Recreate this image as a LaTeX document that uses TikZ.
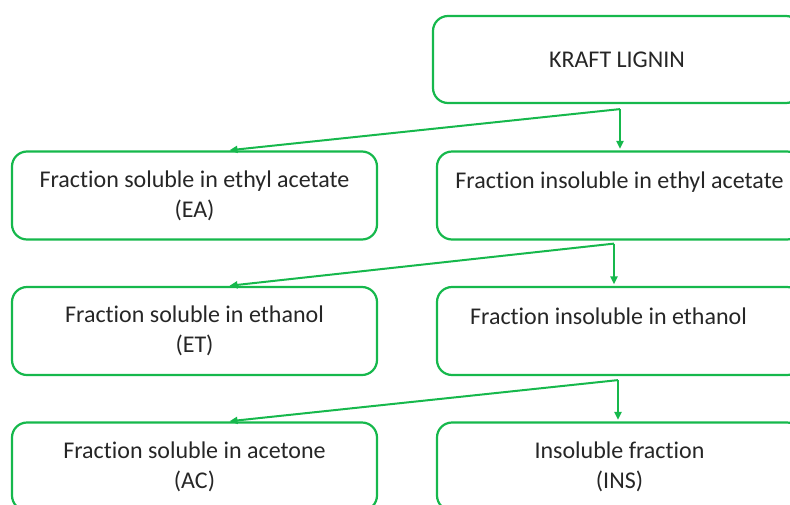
\documentclass[tikz,border=0pt]{standalone}
\usepackage{fontspec}
\setmainfont{Carlito}[RawFeature={-liga;-clig;-calt;-dlig}]
\usetikzlibrary{arrows.meta}

\definecolor{flowgreen}{RGB}{22,184,76}

\begin{document}
\begin{tikzpicture}[x=1pt, y=-1pt,
        box/.style={draw=flowgreen, line width=2.2pt, rounded corners=15pt,
            minimum width=365pt, minimum height=88pt, align=center,
            text=black!85, font=\fontsize{24}{30}\selectfont},
        flow/.style={draw=flowgreen, line width=2pt,
            -{Triangle[length=8pt, width=7pt]}, shorten >=1.5pt}]
        \useasboundingbox (0,0) rectangle (790,504);
        \clip (0,0) rectangle (790,504);

        % Starting material
        \node[box, minimum width=368pt, minimum height=87pt] (kl) at (617,59.5) {KRAFT LIGNIN};

        % Ethyl acetate step
        \node[box] (ea) at (194.5,195.5) {Fraction soluble in ethyl acetate\\(EA)};
        \node[box] (eai) at (619.5,195.5) {Fraction insoluble in ethyl acetate\\\mbox{}};

        % Ethanol step
        \node[box] (et) at (194.5,331) {Fraction soluble in ethanol\\(ET)};
        \node[box] (eti) at (619.5,331) {Fraction insoluble in ethanol\hspace*{22pt}\\\mbox{}};

        % Acetone step
        \node[box] (ac) at (194.5,466.5) {Fraction soluble in acetone\\(AC)};
        \node[box] (ins) at (619.5,466.5) {Insoluble fraction\\(INS)};

        % Split points below each box
        \coordinate (s1) at ([xshift=3pt, yshift=-5pt]kl.south);
        \coordinate (s2) at ([xshift=-5.5pt, yshift=-3pt]eai.south);
        \coordinate (s3) at ([xshift=-1.5pt, yshift=-4pt]eti.south);

        \draw[flow] (s1) -- ([xshift=33.5pt]ea.north);
        \draw[flow] (s1) -- (s1 |- eai.north);
        \draw[flow] (s2) -- ([xshift=33.5pt]et.north);
        \draw[flow] (s2) -- (s2 |- eti.north);
        \draw[flow] (s3) -- ([xshift=33.5pt]ac.north);
        \draw[flow] (s3) -- (s3 |- ins.north);
\end{tikzpicture}
\end{document}
